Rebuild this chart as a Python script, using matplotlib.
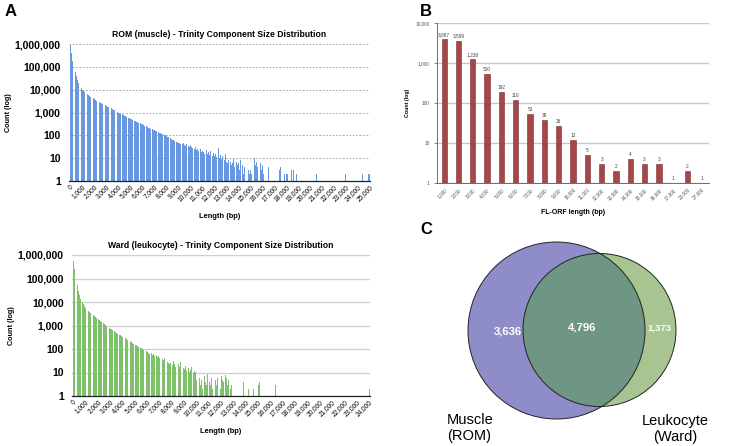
import numpy as np
import matplotlib
matplotlib.use("Agg")
import matplotlib.pyplot as plt
from matplotlib.patches import Circle
from matplotlib.ticker import FuncFormatter

plt.rcParams['font.family'] = ['Liberation Sans', 'DejaVu Sans']

# --- data -------------------------------------------------------------
bin_size = 100  # bp per bar in panel A

rom_counts = [
    900000, 420000, 180000, 95000, 58000, 38000, 27000, 20000, 15000, 12000,
    10000, 9000, 8000, 7200, 6500, 6000, 5400, 5000, 4600, 4200,
    3900, 3600, 3300, 3100, 2900, 2700, 2500, 2300, 2200, 2050,
    1900, 1800, 1700, 1600, 1500, 1400, 1300, 1250, 1150, 1100,
    1000, 950, 880, 820, 780, 720, 680, 640, 600, 560,
    520, 500, 470, 440, 420, 400, 380, 350, 330, 310,
    300, 280, 260, 250, 235, 220, 210, 195, 185, 175,
    165, 155, 150, 140, 130, 125, 118, 110, 105, 100,
    95, 88, 82, 76, 70, 65, 60, 56, 52, 50,
    48, 45, 42, 40, 46, 38, 35, 40, 33, 30,
    36, 32, 28, 25, 30, 22, 26, 20, 24, 18,
    21, 19, 16, 23, 15, 18, 14, 20, 12, 17,
    13, 16, 11, 27, 10, 14, 9, 12, 8, 15,
    7, 6, 8, 7, 5, 6, 9, 4, 7, 5,
    6, 3, 8, 5, 2, 4, 1, 6, 3, 2,
    3, 2, 14, 10, 5, 7, 4, 8, 6, 3,
    5, 2, 1, 1, 1, 4, 1, 1, 1, 1,
    1, 1, 1, 1, 3, 4, 1, 1, 2, 1,
    2, 2, 2, 1, 3, 1, 3, 1, 2, 1,
    1, 1, 1, 1, 1, 1, 1, 1, 1, 1,
    1, 1, 1, 1, 1, 2, 1, 1, 1, 1,
    1, 1, 1, 1, 1, 1, 1, 1, 1, 1,
    1, 1, 1, 1, 1, 1, 1, 1, 1, 2,
    1, 1, 2, 1, 1, 1, 1, 1, 1, 1,
    1, 1, 1, 2, 1, 1, 1, 2, 2, 2,
]

ward_counts = [
    550000, 250000, 100000, 52000, 30000, 19000, 13000, 10000, 8000, 6500,
    5500, 4800, 4200, 3700, 3300, 3000, 2700, 2500, 2300, 2100,
    1900, 1750, 1600, 1450, 1300, 1200, 1100, 980, 880, 800,
    740, 680, 620, 570, 520, 480, 440, 410, 380, 350,
    330, 300, 280, 260, 240, 225, 210, 195, 180, 165,
    155, 145, 135, 125, 115, 108, 100, 92, 85, 80,
    72, 66, 60, 70, 56, 62, 50, 58, 46, 52,
    42, 48, 38, 35, 40, 30, 28, 25, 22, 26,
    20, 30, 24, 18, 32, 22, 17, 28, 20, 16,
    14, 19, 12, 15, 11, 13, 18, 10, 12, 11,
    5, 4, 6, 3, 5, 2, 7, 4, 3, 9,
    4, 3, 6, 2, 8, 5, 3, 6, 4, 2,
    7, 5, 4, 8, 6, 3, 5, 2, 3, 1,
    1, 1, 1, 1, 1, 1, 1, 1, 4, 1,
    1, 1, 2, 1, 2, 1, 2, 1, 3, 1,
    3, 4, 1, 1, 1, 1, 1, 1, 1, 1,
    1, 1, 1, 1, 3, 1, 1, 1, 1, 1,
    1, 1, 1, 1, 1, 1, 1, 1, 1, 1,
    1, 1, 1, 1, 1, 1, 1, 1, 1, 1,
    1, 1, 1, 1, 1, 1, 1, 1, 1, 1,
    1, 1, 1, 1, 1, 1, 1, 1, 1, 1,
    1, 1, 1, 1, 1, 1, 1, 1, 1, 1,
    1, 1, 1, 1, 1, 1, 1, 1, 1, 1,
    1, 1, 1, 1, 1, 1, 1, 1, 1, 1,
    2,
]

orf_lengths = ['1,000', '2,000', '3,000', '4,000', '5,000', '6,000', '7,000',
               '8,000', '9,000', '10,000', '11,000', '12,000', '13,000',
               '14,000', '15,000', '16,000', '17,000', '23,000', '27,000']
orf_counts = [3987, 3599, 1238, 520, 192, 116, 53, 38, 26, 12, 5, 3, 2, 4,
              3, 3, 1, 2, 1]

venn_labels = ['Muscle\n(ROM)', 'Leukocyte\n(Ward)']
venn_counts = [3636, 4796, 1373]  # muscle only, shared, leukocyte only

W, H = 730, 446


def fig_rect(x0, y0, x1, y1):
    # pixel box (top-left origin) -> figure fraction
    return [x0 / W, 1 - y1 / H, (x1 - x0) / W, (y1 - y0) / H]


comma = FuncFormatter(lambda v, p: f"{int(round(v)):,}")


def lengthPanel(ax, counts, color, title, xmax, grid_style):
    x = np.arange(len(counts)) * bin_size + bin_size / 2
    ax.bar(x, counts, width=bin_size * 0.72, color=color, linewidth=0, zorder=3)
    ax.set_yscale('log')
    ax.set_ylim(1, 1.0e6)
    ax.set_xlim(-70, xmax)
    ax.set_yticks([1, 10, 100, 1000, 10000, 100000, 1000000])
    ax.yaxis.set_major_formatter(comma)
    ax.yaxis.set_minor_locator(plt.NullLocator())
    ax.set_xticks(np.arange(0, xmax + 1, 1000))
    ax.xaxis.set_major_formatter(comma)
    ax.tick_params(axis='y', length=0, labelsize=7.5, pad=6)
    for t in ax.get_yticklabels():
        t.set_fontweight('bold')
    ax.tick_params(axis='x', length=0, labelsize=4.7, pad=2)
    plt.setp(ax.get_xticklabels(), rotation=45, ha='right', rotation_mode='anchor')
    ax.grid(axis='y', **grid_style, zorder=0)
    for s in ['top', 'right', 'left']:
        ax.spines[s].set_visible(False)
    ax.spines['bottom'].set_color('#222222')
    ax.spines['bottom'].set_linewidth(0.9)
    ax.spines['bottom'].set_zorder(4)
    ax.set_title(title, fontsize=6.2, fontweight='bold', pad=5)
    ax.set_xlabel('Length (bp)', fontsize=5.4, fontweight='bold', labelpad=7)
    ax.set_ylabel('Count (log)', fontsize=5.2, fontweight='bold', labelpad=2)


fig = plt.figure(figsize=(W / 100, H / 100), dpi=100)

# --- A: ROM ---
ax1 = fig.add_axes(fig_rect(69, 44, 370, 181))
lengthPanel(ax1, rom_counts, '#6A98E0', 'ROM (muscle) - Trinity Component Size Distribution',
            25000, dict(color='#9a9a9a', linestyle=(0, (2, 2)), linewidth=0.6))

# --- A: Ward ---
ax2 = fig.add_axes(fig_rect(72, 255, 370, 396))
lengthPanel(ax2, ward_counts, '#7DC26A', 'Ward (leukocyte) - Trinity Component Size Distribution',
            24100, dict(color='#cfcfcf', linestyle='-', linewidth=0.9))

# --- B: FL-ORF lengths ---
ax3 = fig.add_axes(fig_rect(437, 23, 709, 183))
xb = np.arange(len(orf_counts))
ax3.bar(xb, orf_counts, width=0.37, color='#A3474A', edgecolor='#7a2a2c',
        linewidth=0.4, zorder=3)
ax3.set_yscale('log')
ax3.set_ylim(1, 10000)
ax3.set_xlim(-0.5, len(orf_counts) - 0.5)
ax3.set_yticks([1, 10, 100, 1000, 10000])
ax3.yaxis.set_major_formatter(comma)
ax3.yaxis.set_minor_locator(plt.NullLocator())
ax3.set_xticks(xb)
ax3.set_xticklabels(orf_lengths, rotation=45, ha='right', rotation_mode='anchor')
ax3.tick_params(axis='both', labelsize=3.4, colors='#555555', length=2, width=0.5)
ax3.tick_params(axis='x', length=0, pad=3)
ax3.grid(axis='y', color='#c8c8c8', linewidth=1.0, zorder=0)
for s in ['top', 'right']:
    ax3.spines[s].set_visible(False)
for s in ['left', 'bottom']:
    ax3.spines[s].set_color('#555555')
    ax3.spines[s].set_linewidth(0.6)
for xi, c in zip(xb, orf_counts):
    ax3.annotate(f"{c:,}", (xi, c), xytext=(0, 1.5), textcoords='offset points',
                 ha='center', va='bottom', fontsize=3.4, color='#444444')
ax3.set_xlabel('FL-ORF length (bp)', fontsize=5.0, fontweight='bold', labelpad=6)
ax3.set_ylabel('Count (log)', fontsize=3.8, fontweight='bold', labelpad=4)

# --- C: Venn ---
ax4 = fig.add_axes(fig_rect(440, 210, 730, 446))
ax4.set_xlim(440, 730)
ax4.set_ylim(446, 210)
ax4.axis('off')
blue = Circle((556.5, 330.5), 88.5, facecolor='#8E8DC9', edgecolor='none')
green = Circle((599.5, 330.0), 76.5, facecolor='#A8C591', edgecolor='none')
ax4.add_patch(blue)
ax4.add_patch(green)
lens = Circle((599.5, 330.0), 76.5, facecolor='#6F9685', edgecolor='none')
ax4.add_patch(lens)
lens.set_clip_path(blue)
for cx, cy, r in [(556.5, 330.5, 88.5), (599.5, 330.0, 76.5)]:
    ax4.add_patch(Circle((cx, cy), r, facecolor='none', edgecolor='#222222', linewidth=0.7))
ax4.text(508, 331, f"{venn_counts[0]:,}", color='white', fontsize=8.2,
         fontweight='bold', ha='center', va='center')
ax4.text(582, 328, f"{venn_counts[1]:,}", color='white', fontsize=8.2,
         fontweight='bold', ha='center', va='center')
ax4.text(659, 328, f"{venn_counts[2]:,}", color='white', fontsize=6.8,
         fontweight='bold', ha='center', va='center')
ax4.text(447, 428, venn_labels[0], fontsize=10.5, ha='left', va='center',
         linespacing=1.15)
ax4.text(675, 429, venn_labels[1], fontsize=10.5, ha='center', va='center',
         linespacing=1.15)

# panel letters
fig.text(5 / W, 1 - 12 / H, 'A', fontsize=12, fontweight='bold', va='center')
fig.text(420 / W, 1 - 11 / H, 'B', fontsize=12, fontweight='bold', va='center')
fig.text(420 / W, 1 - 229 / H, 'C', fontsize=12, fontweight='bold', va='center')

fig.savefig('out.png', dpi=100)
